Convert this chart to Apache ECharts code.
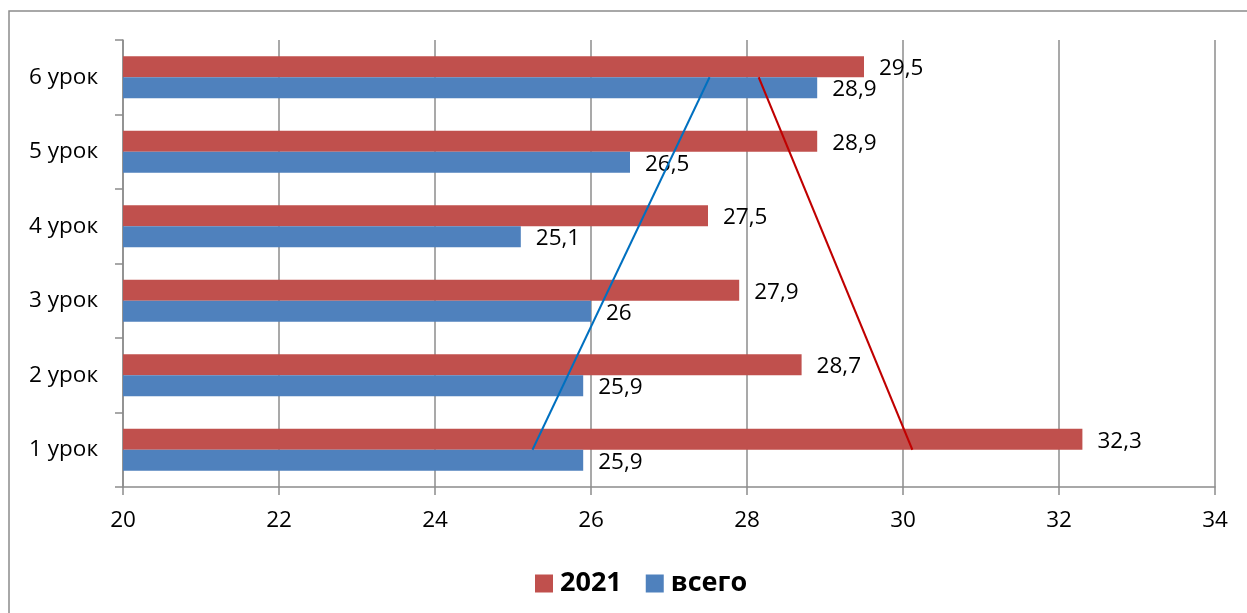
<!DOCTYPE html>
<html>
<head>
<meta charset="utf-8">
<script src="https://cdn.jsdelivr.net/npm/echarts@6/dist/echarts.min.js"></script>
<style>
html,body{margin:0;padding:0;background:#fff;}
#c{width:1247px;height:613px;}
</style>
</head>
<body>
<div id="c"></div>
<script>
const categories = ['1 урок', '2 урок', '3 урок', '4 урок', '5 урок', '6 урок'];
const values2021 = [32.3, 28.7, 27.9, 27.5, 28.9, 29.5];
const valuesTotal = [25.9, 25.9, 26, 25.1, 26.5, 28.9];
const trend2021 = [[30.12, '1 урок'], [28.15, '6 урок']];
const trendTotal = [[25.25, '1 урок'], [27.52, '6 урок']];
const xTicks = { min: 20, max: 34, interval: 2 };

const FONT = '"Open Sans", sans-serif';
const fmt = p => String(p.value).replace('.', ',');

const chart = echarts.init(document.getElementById('c'));
chart.setOption({
  animation: false,
  backgroundColor: '#fff',
  textStyle: { fontFamily: FONT },
  graphic: [{
    type: 'rect',
    shape: { x: 9, y: 11, width: 1400, height: 800 },
    style: { fill: 'none', stroke: '#8c8c8c', lineWidth: 1.5 },
    silent: true
  }],
  grid: { left: 123, right: 32, top: 40, bottom: 126, containLabel: false },
  legend: {
    data: ['2021', 'всего'],
    left: 530, top: 565,
    itemWidth: 18, itemHeight: 18, itemGap: 24,
    icon: 'rect',
    textStyle: { fontFamily: FONT, fontSize: 27, fontWeight: 'bold', color: '#000', padding: [0, 0, 0, 2] }
  },
  xAxis: {
    type: 'value',
    min: xTicks.min, max: xTicks.max, interval: xTicks.interval,
    axisLine: { show: true, lineStyle: { color: '#8c8c8c', width: 1.5 } },
    axisTick: { show: true, length: 8, lineStyle: { color: '#8c8c8c', width: 1.5 } },
    splitLine: { show: true, lineStyle: { color: '#8c8c8c', width: 1.5 } },
    axisLabel: { fontFamily: FONT, fontSize: 22.5, color: '#000', margin: 22 }
  },
  yAxis: {
    type: 'category',
    data: categories,
    axisLine: { show: true, lineStyle: { color: '#8c8c8c', width: 1.5 } },
    axisTick: { show: true, length: 8, lineStyle: { color: '#8c8c8c', width: 1.5 } },
    axisLabel: { fontFamily: FONT, fontSize: 22.5, color: '#000', margin: 25 }
  },
  series: [
    {
      name: '2021', type: 'bar', data: values2021,
      barWidth: 21, barGap: '0%',
      itemStyle: { color: '#C0504D' },
      label: { show: true, position: 'right', distance: 15, offset: [0, 2], formatter: fmt, fontFamily: FONT, fontSize: 22.5, color: '#000' }
    },
    {
      name: 'всего', type: 'bar', data: valuesTotal,
      barWidth: 21, barGap: '0%',
      itemStyle: { color: '#4F81BD' },
      label: { show: true, position: 'right', distance: 15, offset: [0, 2], formatter: fmt, fontFamily: FONT, fontSize: 22.5, color: '#000' }
    },
    {
      name: 'trendTotal', type: 'line', data: trendTotal,
      showSymbol: false, symbol: 'none', z: 5,
      lineStyle: { color: '#0070C0', width: 2 }
    },
    {
      name: 'trend2021', type: 'line', data: trend2021,
      showSymbol: false, symbol: 'none', z: 5,
      lineStyle: { color: '#C00000', width: 2 }
    }
  ]
});
</script>
</body>
</html>
